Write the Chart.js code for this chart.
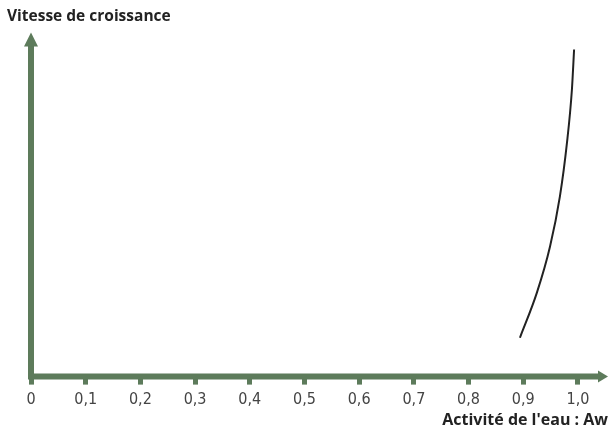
<!DOCTYPE html>
<html>
<head>
<meta charset="utf-8">
<script src="https://cdn.jsdelivr.net/npm/chart.js@4/dist/chart.umd.min.js"></script>
<style>
  html, body { margin: 0; padding: 0; background: #fff; }
  #wrap { width: 609px; height: 432px; }
</style>
</head>
<body>
<div id="wrap"><canvas id="chart"></canvas></div>
<script>
// activité de l'eau (Aw) et vitesse de croissance relative
const aw = [0.894, 0.925, 0.949, 0.967, 0.980, 0.989, 0.993];
const vitesse = [1.13, 2.44, 3.78, 5.23, 6.80, 8.34, 9.51];
const tickValues = [0, 0.1, 0.2, 0.3, 0.4, 0.5, 0.6, 0.7, 0.8, 0.9, 1.0];

const vert = "#5d7b5b";

// axes en flèche
const flechesAxes = {
  id: "flechesAxes",
  afterDraw(chart) {
    const ctx = chart.ctx;
    const x = chart.scales.x, y = chart.scales.y;
    const x0 = x.getPixelForValue(0), y0 = y.getPixelForValue(0);
    const xEnd = x.right, yEnd = y.top;
    ctx.save();
    ctx.strokeStyle = vert;
    ctx.fillStyle = vert;
    ctx.lineWidth = 6;
    ctx.beginPath();
    ctx.moveTo(x0, y0 + 3);
    ctx.lineTo(x0, yEnd + 12);
    ctx.moveTo(x0 - 3, y0);
    ctx.lineTo(xEnd - 8, y0);
    ctx.stroke();
    ctx.beginPath();
    ctx.moveTo(x0, yEnd);
    ctx.lineTo(x0 - 7, yEnd + 14);
    ctx.lineTo(x0 + 7, yEnd + 14);
    ctx.closePath();
    ctx.fill();
    ctx.beginPath();
    ctx.moveTo(xEnd, y0);
    ctx.lineTo(xEnd - 10, y0 - 6);
    ctx.lineTo(xEnd - 10, y0 + 6);
    ctx.closePath();
    ctx.fill();
    ctx.restore();
  }
};

new Chart(document.getElementById("chart"), {
  type: "line",
  data: {
    datasets: [{
      data: aw.map((v, i) => ({ x: v, y: vitesse[i] })),
      borderColor: "#222",
      borderWidth: 2,
      pointRadius: 0,
      cubicInterpolationMode: "monotone",
      fill: false
    }]
  },
  options: {
    responsive: true,
    maintainAspectRatio: false,
    animation: false,
    layout: { padding: { left: 7, right: 1, top: 0, bottom: 2 } },
    plugins: {
      legend: { display: false },
      tooltip: { enabled: false },
      title: {
        display: true,
        text: "Vitesse de croissance",
        align: "start",
        color: "#222",
        font: { family: "Open Sans", size: 15.5, weight: "bold" },
        padding: { top: 7, bottom: 7 }
      }
    },
    scales: {
      x: {
        type: "linear",
        min: 0,
        max: 1.055,
        afterBuildTicks: s => { s.ticks = tickValues.map(v => ({ value: v })); },
        afterFit: s => { s.height -= 5; },
        ticks: {
          color: "#444",
          font: { family: "'DejaVu Sans Condensed', 'DejaVu Sans'", size: 16 },
          padding: 6,
          maxRotation: 0,
          autoSkip: false,
          callback: v => v === 0 ? "0" : v.toFixed(1).replace(".", ",")
        },
        grid: {
          drawOnChartArea: false,
          drawTicks: true,
          tickLength: 8,
          tickWidth: 5,
          tickColor: vert
        },
        border: { display: false },
        title: {
          display: true,
          text: "Activité de l'eau : Aw",
          align: "end",
          color: "#222",
          font: { family: "Open Sans", size: 16, weight: "bold" },
          padding: { top: 0, bottom: 0 }
        }
      },
      y: {
        display: true,
        min: 0,
        max: 10,
        ticks: { display: false },
        grid: { display: false },
        border: { display: false },
        afterFit: s => { s.width = 24; }
      }
    }
  },
  plugins: [flechesAxes]
});
</script>
</body>
</html>
